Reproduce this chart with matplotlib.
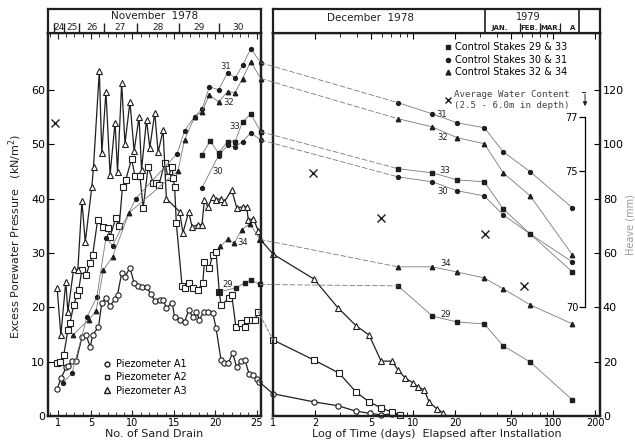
import matplotlib
matplotlib.use("Agg")
import matplotlib.pyplot as plt
import matplotlib.transforms as mtrans
from matplotlib.patches import ConnectionPatch
from matplotlib.lines import Line2D
from matplotlib.ticker import FixedLocator, LogLocator, NullFormatter, FixedFormatter

plt.rcParams['font.family'] = 'DejaVu Sans'
INK = '#1f1f1f'
GREY = '#7a7a7a'

# ---------------- piezometers, left panel (no. of sand drain, kN/m2)
a1_drain = [0.9, 1.4, 2.0, 2.2, 2.7, 3.2, 3.9, 4.4, 4.9, 5.2, 5.9, 6.3, 6.8, 7.3, 7.9, 8.2,
            8.7, 9.1, 9.7, 10.2, 10.7, 11.1, 11.7, 12.2, 12.7, 13.3, 13.7, 14.1, 14.8, 15.1,
            15.7, 16.3, 16.8, 17.3, 17.7, 18.1, 18.6, 19.1, 19.7, 20.1, 20.7, 21.1, 21.6,
            22.1, 22.6, 23.1, 23.6, 24.1, 24.6, 25.0, 25.3]
a1_p = [5.0, 7.0, 9.0, 9.2, 10.1, 10.1, 14.5, 14.9, 12.7, 14.9, 16.4, 20.8, 21.7, 20.3, 21.5, 22.3,
        26.3, 25.6, 27.3, 24.5, 23.9, 23.8, 23.8, 22.5, 21.2, 21.4, 21.4, 19.9, 20.8, 18.2,
        17.7, 17.3, 19.5, 18.2, 19.2, 17.7, 19.2, 19.2, 19.0, 16.2, 10.3, 9.8, 9.8,
        11.6, 9.0, 10.1, 10.3, 7.7, 7.6, 6.8, 6.3]

a2_drain = [0.9, 1.25, 1.7, 2.2, 2.45, 2.9, 3.3, 3.5, 3.9, 4.4, 4.9, 5.2, 5.8, 6.4, 7.0, 7.3,
            8.0, 8.4, 8.8, 9.2, 9.9, 10.3, 10.9, 11.3, 11.9, 12.5, 12.9, 13.2, 13.9, 14.3,
            14.8, 14.9, 15.1, 15.3, 16.0, 16.3, 16.8, 17.3, 17.9, 18.5, 18.7, 19.3, 19.7,
            20.1, 20.5, 20.7, 21.7, 22.0, 22.5, 23.1, 23.6, 23.9, 24.4, 24.8, 25.2]
a2_p = [9.8, 10.0, 11.2, 15.8, 17.1, 20.4, 22.3, 23.2, 26.9, 26.0, 28.2, 29.7, 36.1, 34.8, 34.6, 33.0,
        36.5, 35.0, 42.2, 43.5, 47.3, 44.2, 44.2, 38.3, 45.9, 42.9, 42.9, 42.5, 46.6, 44.0,
        45.9, 43.8, 42.2, 35.5, 23.9, 23.6, 24.5, 23.6, 23.2, 24.5, 28.4, 27.3, 29.7,
        30.2, 22.8, 20.4, 21.7, 22.3, 16.4, 17.1, 16.4, 17.7, 17.7, 17.7, 19.2]

a3_drain = [0.9, 1.35, 1.95, 2.2, 2.9, 3.4, 3.9, 4.3, 5.1, 5.3, 6.0, 6.3, 6.8, 7.3, 7.9, 8.2,
            8.7, 9.1, 9.7, 10.2, 10.8, 11.1, 11.7, 12.1, 12.7, 13.1, 13.7, 14.1, 15.7, 16.1,
            16.8, 17.2, 17.9, 18.4, 18.7, 19.1, 19.7, 20.1, 20.7, 21.1, 22.0, 22.6, 23.3,
            23.8, 24.0, 24.6, 25.2, 25.4]
a3_p = [23.6, 14.9, 24.7, 19.2, 27.1, 26.8, 39.6, 32.0, 42.2, 45.9, 63.5, 48.4, 59.7, 44.4, 54.0, 44.9,
        61.3, 50.1, 57.8, 48.8, 55.0, 45.3, 54.5, 49.4, 55.8, 48.5, 52.6, 40.0, 37.6, 33.7,
        37.6, 34.8, 35.2, 35.2, 39.8, 38.5, 40.3, 39.8, 40.0, 39.4, 41.6, 38.3, 38.5,
        38.5, 36.1, 36.3, 34.1, 32.6]

# ---------------- piezometers, right panel (days, kN/m2)
a1_days = [1, 1.96, 2.9, 3.9, 4.9, 5.9, 7.1, 8.1]
a1_pr = [4.1, 2.6, 1.9, 0.9, 0.5, 0.2, 0.4, 0.2]
a2_days = [1, 1.96, 2.96, 3.92, 4.85, 5.91, 7.08, 8.1]
a2_pr = [14.0, 10.3, 7.9, 4.4, 2.6, 1.5, 0.7, 0.2]
a3_days = [1, 1.96, 2.91, 3.92, 4.85, 5.91, 7.08, 7.8, 8.77, 10, 10.9, 12, 13, 14.8, 16.4]
a3_pr = [29.8, 25.2, 19.9, 16.6, 14.9, 10.1, 10.1, 8.5, 7.0, 6.1, 5.3, 4.8, 2.6, 1.3, 0.6]

# ---------------- control stakes, left panel (no. of sand drain, heave mm)
s29_drain = [20.4, 22.5, 23.6, 24.3, 25.4]
s29_l = [45.6, 47.2, 49.0, 50.0, 48.4]
s30_drain = [18.4, 20.4, 21.5, 22.4, 23.3, 24.3, 25.5]
s30_l = [84.0, 95.8, 99.6, 99.0, 101.0, 104.2, 101.6]
s31_drain = [1.6, 2.7, 4.5, 5.7, 6.8, 7.6, 10.4, 15.4, 16.3, 17.5, 18.4, 19.3, 20.4,
             21.5, 22.4, 23.3, 24.3, 25.5]
s31_l = [12.2, 15.8, 36.4, 43.8, 65.6, 62.6, 80.0, 96.6, 105.0, 110.2, 112.8, 121.2, 120.0,
         126.4, 124.4, 129.0, 135.2, 130.0]
s32_drain = [2.8, 4.7, 5.6, 6.5, 7.6, 9.6, 15.5, 16.3, 17.5, 18.4, 19.3, 20.4, 21.5,
             22.4, 23.3, 24.3, 25.5]
s32_l = [29.8, 35.4, 38.6, 53.8, 58.6, 74.8, 90.2, 101.6, 110.0, 112.0, 118.2, 115.6, 119.4,
         119.0, 124.2, 130.4, 124.2]
s33_drain = [18.4, 19.4, 20.4, 21.5, 22.4, 23.3, 24.3, 25.5]
s33_l = [96.2, 101.2, 96.8, 101.0, 101.0, 108.2, 111.2, 104.6]
s34_drain = [20.6, 21.5, 22.3, 23.2, 24.2, 25.4]
s34_l = [62.4, 65.0, 63.6, 68.6, 70.8, 65.0]

# ---------------- control stakes, right panel (days, heave mm)
stake_days = [7.8, 13.7, 20.6, 32.2, 44, 68.5, 137]
s29_r = [47.9, 36.8, 34.6, 33.9, 25.8, 19.9, 5.9]
s30_r = [88.0, 86.2, 82.9, 81.0, 74.0, 67.0, 56.7]
s31_r = [115.3, 111.2, 107.9, 106.1, 97.2, 89.9, 76.6]
s32_r = [109.4, 106.4, 102.4, 100.2, 89.5, 81.0, 59.3]
s33_r = [91.0, 89.5, 86.9, 86.2, 76.2, 67.0, 53.0]
s34_r = [54.9, 54.9, 53.0, 50.8, 46.8, 40.9, 33.9]

# ---------------- average water content (%)
wc_drain = [0.65]
wc_left = [76.8]
wc_days = [1.93, 5.9, 32.7, 62]
wc_right = [74.95, 73.3, 72.7, 70.8]

# ---------------- header strips
nov_days = ['24', '25', '26', '27', '28', '29', '30']
nov_centres = [1.12, 2.69, 5.1, 8.48, 13.06, 18.0, 22.8]
nov_bounds = [0.52, 1.72, 3.53, 6.55, 10.53, 15.6, 20.4]
months79 = ['JAN.', 'FEB.', 'MAR.', 'A']
month_centres = [41.8, 67.4, 95.2, 136.7]
month_bounds = [58, 80.7, 112]
year_bounds = [32.7, 153]

P_MAX = 70.5
fig = plt.figure(figsize=(6.35, 4.44), dpi=100)
fig.patch.set_facecolor('white')

L = [0.0756, 0.063, 0.335, 0.863]
R = [0.430, 0.063, 0.515, 0.863]
HDR_Y, HDR_H = 0.926, 0.054

ax_l = fig.add_axes(L)
ax_r = fig.add_axes(R)
ax_lh = ax_l.twinx()
ax_rh = ax_r.twinx()
ax_lw = ax_l.twinx()
ax_rw = ax_r.twinx()

for a in (ax_l, ax_r, ax_lh, ax_rh):
    for s in a.spines.values():
        s.set_linewidth(1.6)
        s.set_color(INK)

open_kw = dict(color=INK, lw=0.9, mfc='white', mec=INK, mew=0.8, clip_on=False)
stake_kw = dict(color=GREY, lw=0.6, mfc=INK, mec=INK, clip_on=False)

# ---- left panel
ax_l.plot(a1_drain, a1_p, marker='o', ms=3.8, **open_kw)
ax_l.plot(a2_drain, a2_p, marker='s', ms=3.8, **open_kw)
ax_l.plot(a3_drain, a3_p, marker='^', ms=4.3, **open_kw)
ax_l.set_xlim(-0.2, 25.5)
ax_l.set_ylim(0, P_MAX)
ax_l.xaxis.set_major_locator(FixedLocator([1, 5, 10, 15, 20, 25]))
ax_l.xaxis.set_minor_locator(FixedLocator(range(0, 26)))
ax_l.set_yticks(range(0, 61, 10))
ax_l.tick_params(axis='x', which='both', direction='in', top=True, labelsize=7, pad=1.5,
                 color=INK)
ax_l.tick_params(axis='x', which='major', length=4)
ax_l.tick_params(axis='x', which='minor', length=3)
ax_l.tick_params(axis='y', direction='in', length=4, labelsize=8, pad=2)
ax_l.set_xlabel('No. of Sand Drain', fontsize=8, labelpad=0.5, color=INK)

ax_lh.set_ylim(0, 2 * P_MAX)
ax_lh.tick_params(right=False, labelright=False)
ax_lh.plot(s29_drain, s29_l, marker='s', ms=2.8, **stake_kw)
ax_lh.plot(s30_drain, s30_l, marker='o', ms=2.8, **stake_kw)
ax_lh.plot(s31_drain, s31_l, marker='o', ms=2.8, **stake_kw)
ax_lh.plot(s32_drain, s32_l, marker='^', ms=3.2, **stake_kw)
ax_lh.plot(s33_drain, s33_l, marker='s', ms=2.8, **stake_kw)
ax_lh.plot(s34_drain, s34_l, marker='^', ms=3.2, **stake_kw)

ax_lw.set_ylim(66, 66 + P_MAX / 5)
ax_lw.axis('off')
ax_lw.plot(wc_drain, wc_left, 'x', color=INK, ms=6, mew=1.0)

# stake labels left
for txt, xy in [('31', (0.836, 0.911)), ('32', (0.85, 0.817)), ('33', (0.878, 0.755)),
                ('30', (0.798, 0.637)), ('34', (0.915, 0.452)), ('29', (0.845, 0.342))]:
    ax_l.text(xy[0], xy[1], txt, transform=ax_l.transAxes, fontsize=6, color=INK,
              ha='center', va='center')

leg_l = ax_l.legend(handles=[Line2D([], [], ls='none', marker='o', ms=3.5, mfc='white', mec=INK),
                             Line2D([], [], ls='none', marker='s', ms=3.5, mfc='white', mec=INK),
                             Line2D([], [], ls='none', marker='^', ms=4, mfc='white', mec=INK)],
                    labels=['Piezometer A1', 'Piezometer A2', 'Piezometer A3'],
                    loc='lower left', bbox_to_anchor=(0.22, 0.03), frameon=False,
                    fontsize=7, handlelength=0.8, handletextpad=0.5, labelspacing=0.35)

# ---- right panel
ax_r.set_xscale('log')
ax_r.set_xlim(1, 216)
ax_r.set_ylim(0, P_MAX)
ax_r.plot(a1_days, a1_pr, marker='o', ms=3.8, **open_kw)
ax_r.plot(a2_days, a2_pr, marker='s', ms=3.8, **open_kw)
ax_r.plot(a3_days, a3_pr, marker='^', ms=4.3, **open_kw)
ax_r.xaxis.set_major_locator(FixedLocator([1, 2, 5, 10, 20, 50, 100, 200]))
ax_r.xaxis.set_major_formatter(FixedFormatter(['1', '2', '5', '10', '20', '50', '100', '200']))
ax_r.xaxis.set_minor_locator(LogLocator(base=10, subs=(3, 4, 6, 7, 8, 9)))
ax_r.xaxis.set_minor_formatter(NullFormatter())
ax_r.tick_params(axis='x', which='both', direction='in', top=True, labelsize=7, pad=1.5)
ax_r.tick_params(axis='x', which='major', length=4)
ax_r.tick_params(axis='x', which='minor', length=3)
ax_r.tick_params(axis='y', left=False, labelleft=False)
ax_r.set_xlabel('Log of Time (days)  Elapsed after Installation', fontsize=8, labelpad=0.5,
                color=INK)

ax_rh.set_ylim(0, 2 * P_MAX)
ax_rh.set_yticks(range(0, 121, 20))
ax_rh.tick_params(axis='y', direction='in', length=4, labelsize=8, pad=2)
ax_rh.plot(stake_days, s29_r, marker='s', ms=2.8, **stake_kw)
ax_rh.plot(stake_days, s30_r, marker='o', ms=2.8, **stake_kw)
ax_rh.plot(stake_days, s31_r, marker='o', ms=2.8, **stake_kw)
ax_rh.plot(stake_days, s32_r, marker='^', ms=3.2, **stake_kw)
ax_rh.plot(stake_days, s33_r, marker='s', ms=2.8, **stake_kw)
ax_rh.plot(stake_days, s34_r, marker='^', ms=3.2, **stake_kw)
ax_rh.set_ylabel('Heave (mm)', fontsize=7, color='#9a9a9a', labelpad=1)

for txt, xy in [('31', (0.515, 0.786)), ('32', (0.518, 0.726)), ('33', (0.525, 0.64)),
                ('30', (0.52, 0.585)), ('34', (0.528, 0.397)), ('29', (0.528, 0.266))]:
    ax_r.text(xy[0], xy[1], txt, transform=ax_r.transAxes, fontsize=6, color=INK,
              ha='center', va='center')

# water content scale inside right panel
ax_rw.set_ylim(66, 66 + P_MAX / 5)
for s in ax_rw.spines.values():
    s.set_visible(False)
ax_rw.spines['left'].set_visible(True)
ax_rw.spines['left'].set_position(('axes', 0.954))
ax_rw.spines['left'].set_bounds(70, 77)
ax_rw.spines['left'].set_linewidth(0.9)
ax_rw.yaxis.tick_left()
ax_rw.set_yticks([70, 75, 77])
ax_rw.tick_params(axis='y', direction='out', length=4, width=0.9, labelsize=7, pad=1)
ax_rw.plot(wc_days, wc_right, 'x', color=INK, ms=6, mew=1.0)
blend = mtrans.blended_transform_factory(ax_rw.transAxes, ax_rw.transData)
ax_rw.plot([0.945, 0.954], [77.93, 77.93], color=INK, lw=0.7, transform=blend)
ax_rw.annotate('', xy=(0.954, 77.3), xytext=(0.954, 77.95), xycoords=blend, textcoords=blend,
               arrowprops=dict(arrowstyle='-|>', lw=0.7, color=INK, mutation_scale=6))

leg_r = ax_r.legend(handles=[Line2D([], [], ls='none', marker='s', ms=3, color=INK),
                             Line2D([], [], ls='none', marker='o', ms=3, color=INK),
                             Line2D([], [], ls='none', marker='^', ms=3.5, color=INK)],
                    labels=['Control Stakes 29 & 33', 'Control Stakes 30 & 31',
                            'Control Stakes 32 & 34'],
                    loc='upper left', bbox_to_anchor=(0.515, 0.985), frameon=False, fontsize=7,
                    handlelength=0.6, handletextpad=0.4, labelspacing=0.25, borderaxespad=0)
ax_r.add_artist(leg_r)
ax_r.legend(handles=[Line2D([], [], ls='none', marker='x', ms=5, mew=1.0, color=INK)],
            labels=['Average Water Content\n(2.5 - 6.0m in depth)'],
            loc='upper left', bbox_to_anchor=(0.515, 0.86), frameon=False,
            prop=dict(family='DejaVu Sans Mono', size=6.6), handlelength=0.6,
            handletextpad=0.4, borderaxespad=0, labelcolor='#444444')

# ---- links across the gap between panels
links = [
    (ax_lh, (s31_drain[-1], s31_l[-1]), ax_rh, (stake_days[0], s31_r[0]), (0, (6, 3)), GREY, 0.6),
    (ax_lh, (s32_drain[-1], s32_l[-1]), ax_rh, (stake_days[0], s32_r[0]), (0, (6, 3)), GREY, 0.6),
    (ax_lh, (s33_drain[-1], s33_l[-1]), ax_rh, (stake_days[0], s33_r[0]), (0, (6, 3)), GREY, 0.6),
    (ax_lh, (s30_drain[-1], s30_l[-1]), ax_rh, (stake_days[0], s30_r[0]), (0, (6, 3)), GREY, 0.6),
    (ax_lh, (s34_drain[-1], s34_l[-1]), ax_rh, (stake_days[0], s34_r[0]), (0, (6, 3)), GREY, 0.6),
    (ax_lh, (s29_drain[-1], s29_l[-1]), ax_rh, (stake_days[0], s29_r[0]), (0, (6, 3)), GREY, 0.6),
    (ax_l, (a1_drain[-1], a1_p[-1]), ax_r, (a1_days[0], a1_pr[0]), '-', INK, 0.9),
    (ax_l, (a2_drain[-1], a2_p[-1]), ax_r, (a2_days[0], a2_pr[0]), (0, (3, 2)), GREY, 0.7),
    (ax_l, (a3_drain[-1], a3_p[-1]), ax_r, (a3_days[0], a3_pr[0]), '-', INK, 0.9),
]
for axa, xya, axb, xyb, ls, col, lw in links:
    con = ConnectionPatch(xyA=xya, coordsA=axa.transData, xyB=xyb, coordsB=axb.transData,
                          linestyle=ls, color=col, lw=lw)
    fig.add_artist(con)

# ---- header strips
hl = fig.add_axes([L[0], HDR_Y, L[2], HDR_H])
hl.set_xlim(ax_l.get_xlim())
hl.set_ylim(0, 1)
hr = fig.add_axes([R[0], HDR_Y, R[2], HDR_H])
hr.set_xscale('log')
hr.set_xlim(ax_r.get_xlim())
hr.set_ylim(0, 1)
for h in (hl, hr):
    h.set_xticks([], minor=True)
    h.set_xticks([])
    h.set_yticks([])
    for s in h.spines.values():
        s.set_linewidth(1.6)
        s.set_color(INK)

hl.text(0.5, 0.72, 'November  1978', transform=hl.transAxes, ha='center', va='center',
        fontsize=7.5, color=INK)
for d, xc in zip(nov_days, nov_centres):
    hl.text(xc, 0.22, d, ha='center', va='center', fontsize=6.5, color=INK)
hl.vlines(nov_bounds, 0, 0.42, color=INK, lw=1.0)

hr.text(4.93, 0.6, 'December  1978', ha='center', va='center', fontsize=7.5, color=INK)
hr.vlines(year_bounds, 0, 1, color=INK, lw=1.2)
hr.text(66.3, 0.68, '1979', ha='center', va='center', fontsize=7, color=INK)
for m, xc in zip(months79, month_centres):
    hr.text(xc, 0.2, m, ha='center', va='center', fontsize=5, color=INK, fontweight='bold')
hr.vlines(month_bounds, 0, 0.42, color=INK, lw=0.9)

fig.text(0.024, 0.468, 'Excess Porewater Pressure   (kN/m$^2$)', rotation=90,
         ha='center', va='center', fontsize=8, color=INK)

fig.savefig('out.png', dpi=100, facecolor='white')
